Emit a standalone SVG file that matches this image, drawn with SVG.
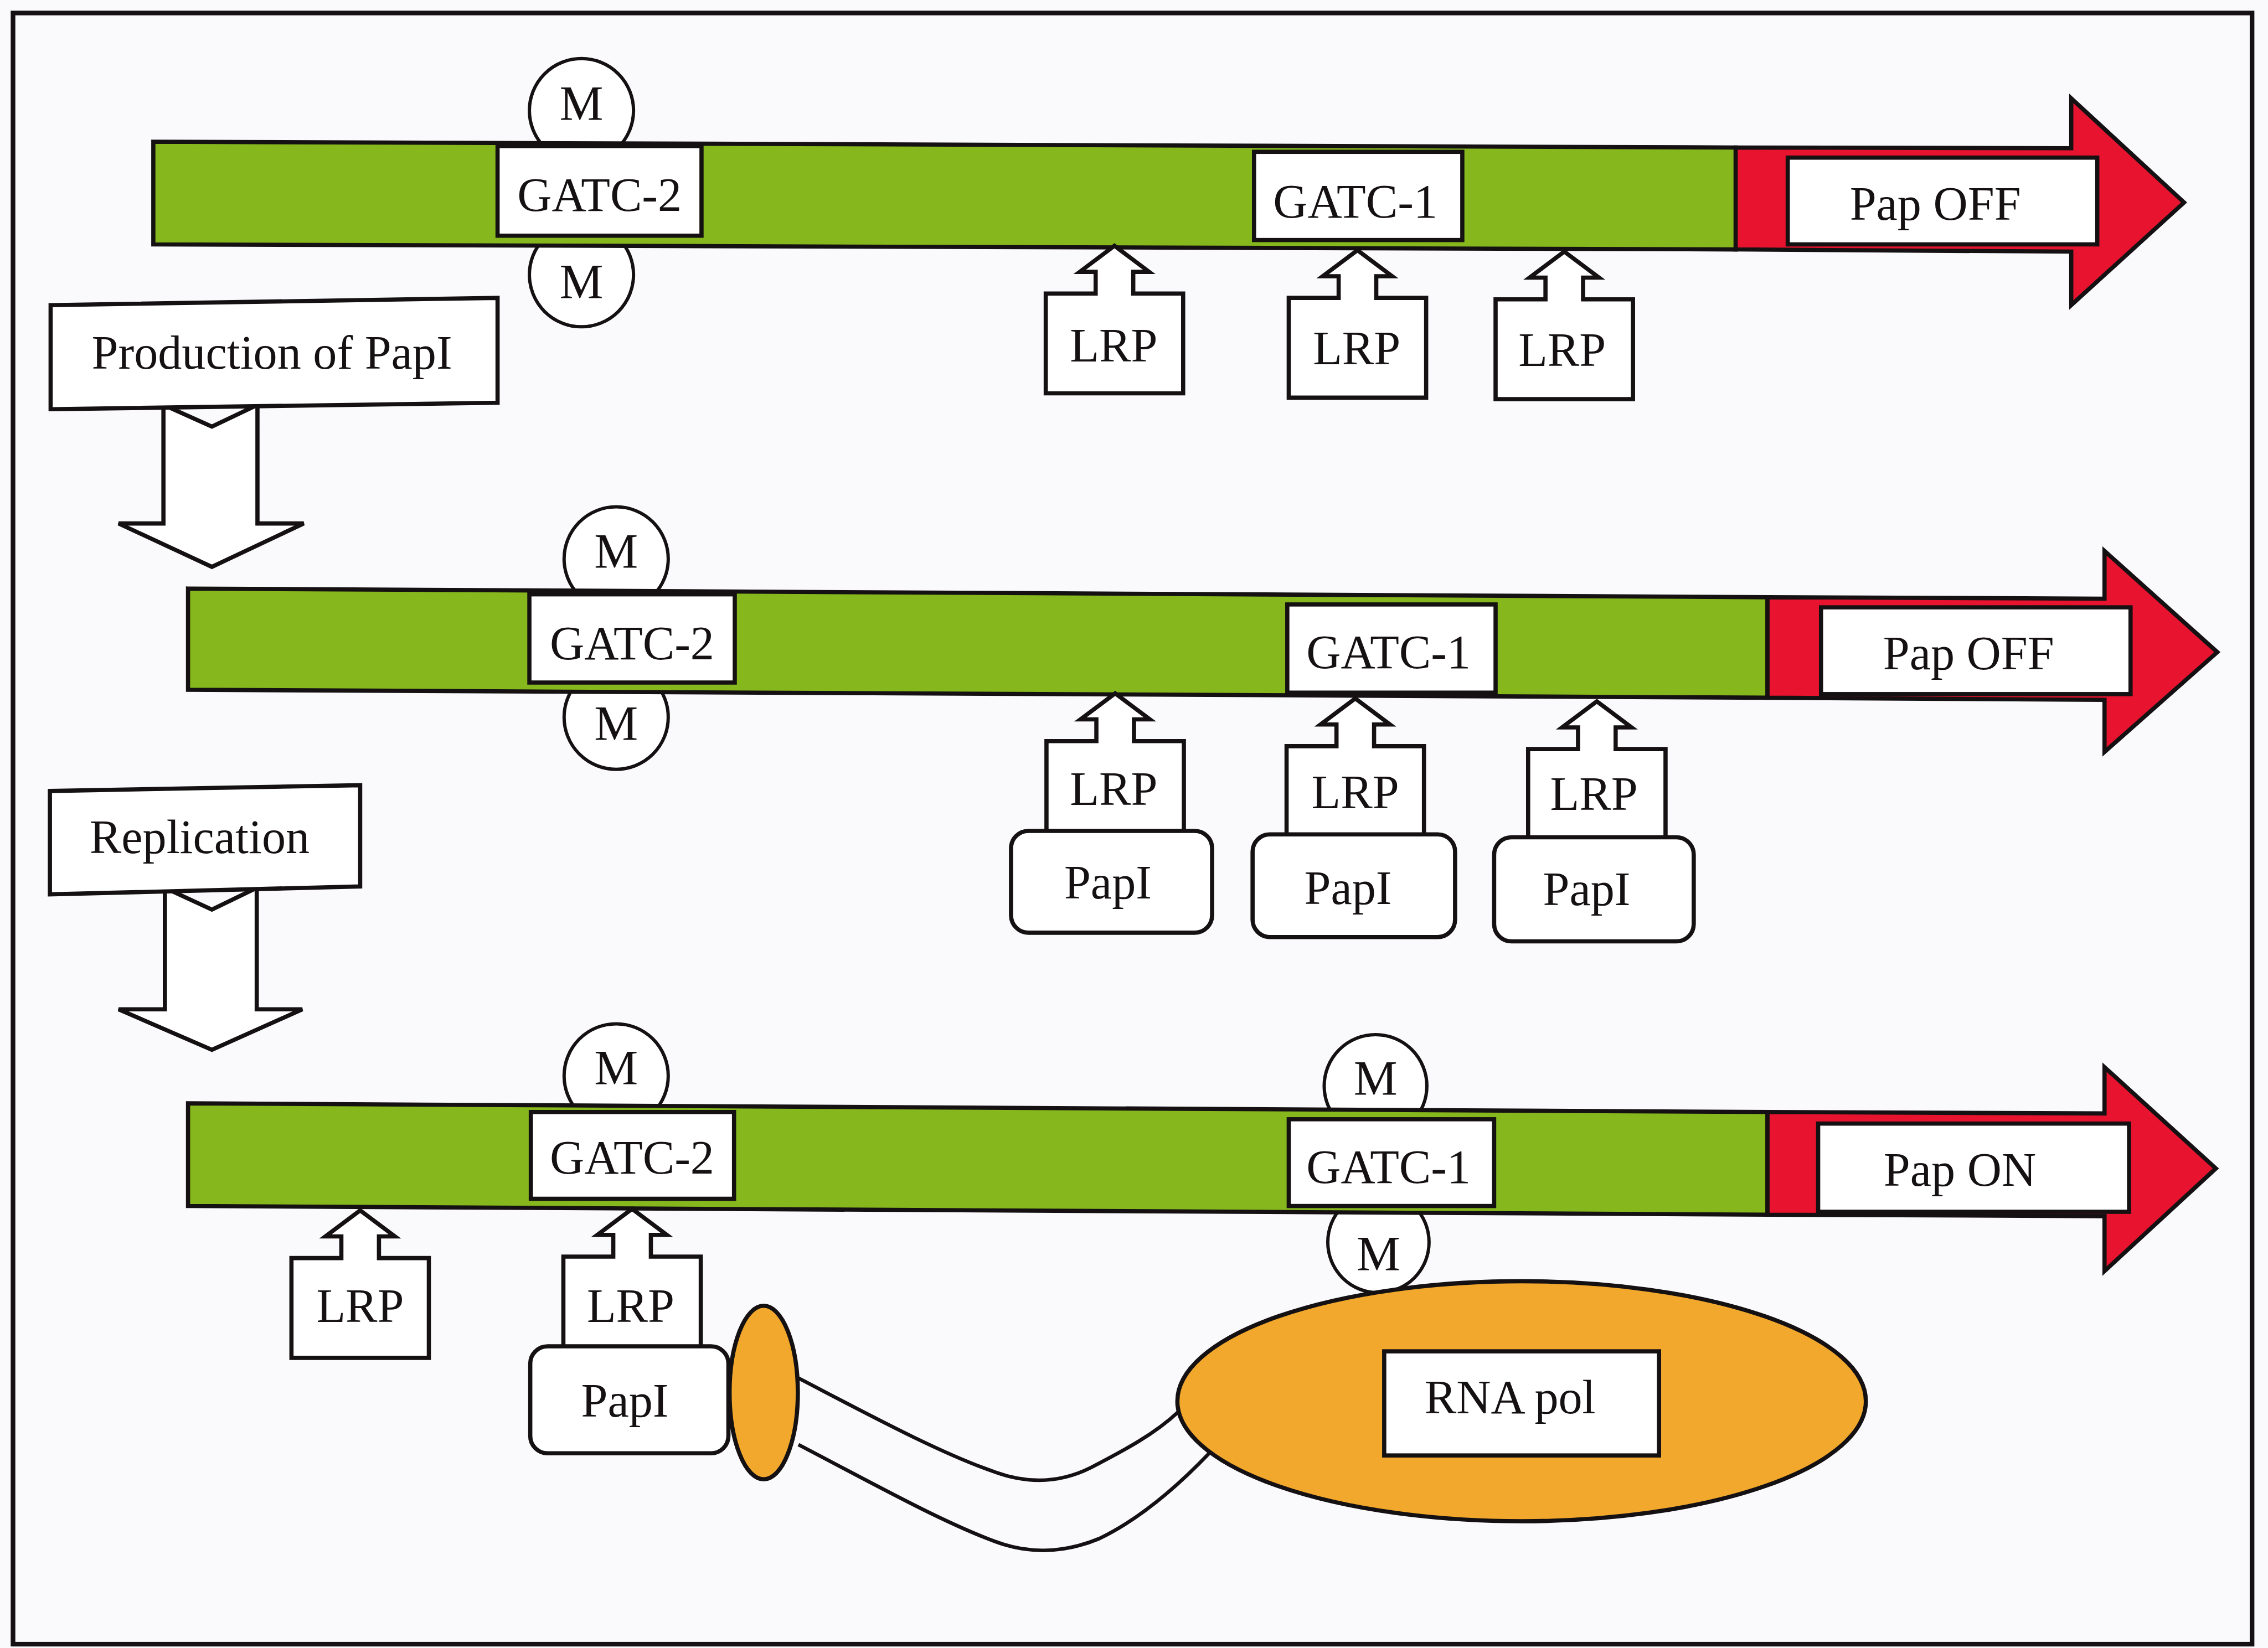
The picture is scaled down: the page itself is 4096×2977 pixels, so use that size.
<svg xmlns="http://www.w3.org/2000/svg" xmlns:xlink="http://www.w3.org/1999/xlink" width="4096" height="2977" viewBox="0 0 4096 2977">
  <defs>
    <style>
      .ln { stroke: #151113; stroke-width: 2.9; stroke-linejoin: miter; }
      .thin { stroke: #151113; stroke-width: 2.3; }
      .wh { fill: #ffffff; }
      .dna { fill: #86b81e; }
      .gene { fill: #e8142f; }
      .org { fill: #f2a82c; }
      .wire { fill: none; stroke: #151113; stroke-width: 2.5; }
      text { font-family: "Liberation Serif", "Times New Roman", serif; font-size: 33px; fill: #151113; text-anchor: middle; }
      .m { font-size: 34px; }
    </style>
    <!-- LRP block: tip of the arrow at the origin, box below -->
    <path id="lrp-shape" d="M-47.5,102 V33 H-13 V18 H-24 L0,0 L24,18 H13 V33 H47.5 V102 Z"/>
  </defs>

  <rect x="0" y="0" width="4096" height="2977" fill="#fafafd"/>

  <g transform="scale(2.6122)">
    <rect id="frame" x="9" y="9" width="1548" height="1128" fill="none" stroke="#151113" stroke-width="3.2"/>

    <!-- block arrows and the RNA polymerase tether -->
    <g id="connectors">
      <polygon id="arrow-production" class="ln wh" points="113,280 146.5,295 178,280 178,362 210,362 146.5,392 82,362 113,362"/>
      <polygon id="arrow-replication" class="ln wh" points="114,614 146.5,629 177.5,614 177.5,698 209,698 146.5,726 82,698 114,698"/>
      <path id="tether-upper" class="wire" d="M552,953 C600,978 650,1005 688,1018 C710,1026 732,1026 754,1015 C777,1003 798,992 815,976"/>
      <path id="tether-lower" class="wire" d="M552,999 C600,1024 650,1052 688,1066 C712,1075 736,1074 760,1064 C787,1051 813,1029 836,1005"/>
    </g>

    <!-- ===== State 1 ===== -->
    <g id="r1-m-top"><circle class="thin wh" cx="402" cy="76.5" r="36"/><text class="m" x="402" y="82.6">M</text></g>
    <g id="r1-m-bottom"><circle class="thin wh" cx="402" cy="190" r="36"/><text class="m" x="402" y="205.8">M</text></g>
    <g id="r1-dna"><polygon class="ln dna" points="106,98 1200,102 1200,172.5 106,169"/></g>
    <g id="r1-pap">
      <polygon class="ln gene" points="1200,102 1432,102.5 1432,68 1510,140 1432,211 1432,174 1200,172.5"/>
      <rect class="ln wh" x="1236" y="109" width="214" height="60" stroke-width="3.2"/>
      <text x="1338" y="152">Pap OFF</text>
    </g>
    <g id="r1-gatc2"><rect class="ln wh" x="344" y="101" width="141" height="62"/><text x="414.5" y="146">GATC-2</text></g>
    <g id="r1-gatc1"><rect class="ln wh" x="867" y="105" width="144" height="61"/><text x="937" y="150.5">GATC-1</text></g>
    <g id="r1-lrp1"><use xlink:href="#lrp-shape" class="ln wh" x="770.5" y="170"/><text x="770" y="250">LRP</text></g>
    <g id="r1-lrp2"><use xlink:href="#lrp-shape" class="ln wh" x="938.5" y="173"/><text x="938" y="252">LRP</text></g>
    <g id="r1-lrp3"><use xlink:href="#lrp-shape" class="ln wh" x="1081.5" y="174"/><text x="1080" y="253">LRP</text></g>

    <g id="label-production">
      <polygon class="ln wh" points="35,211 344,206 344,278.5 35,283"/>
      <text x="188" y="255">Production of PapI</text>
    </g>

    <!-- ===== State 2 ===== -->
    <g id="r2-m-top"><circle class="thin wh" cx="426" cy="386.5" r="36"/><text class="m" x="426" y="392.5">M</text></g>
    <g id="r2-m-bottom"><circle class="thin wh" cx="426" cy="496" r="36"/><text class="m" x="426" y="511.5">M</text></g>
    <g id="r2-dna"><polygon class="ln dna" points="130,407 1222,413 1222,482.5 130,477"/></g>
    <g id="r2-pap">
      <polygon class="ln gene" points="1222,413 1455,414 1455,381 1533,451 1455,520 1455,484 1222,482.5"/>
      <rect class="ln wh" x="1259" y="420" width="214" height="60" stroke-width="3.2"/>
      <text x="1361" y="463">Pap OFF</text>
    </g>
    <g id="r2-gatc2"><rect class="ln wh" x="366" y="411" width="142" height="61"/><text x="437" y="456">GATC-2</text></g>
    <g id="r2-gatc1"><rect class="ln wh" x="890" y="418" width="144" height="61"/><text x="960" y="462">GATC-1</text></g>
    <g id="r2-lrp1"><use xlink:href="#lrp-shape" class="ln wh" x="771" y="479.5"/><text x="770" y="556.5">LRP</text></g>
    <g id="r2-lrp2"><use xlink:href="#lrp-shape" class="ln wh" x="937" y="483"/><text x="937" y="559">LRP</text></g>
    <g id="r2-lrp3"><use xlink:href="#lrp-shape" class="ln wh" x="1104" y="485"/><text x="1102" y="560">LRP</text></g>
    <g id="r2-papi1"><rect class="ln wh" x="699" y="574.6" width="139" height="70.4" rx="12"/><text x="766" y="621.5">PapI</text></g>
    <g id="r2-papi2"><rect class="ln wh" x="866" y="577" width="140" height="71" rx="12"/><text x="932" y="625">PapI</text></g>
    <g id="r2-papi3"><rect class="ln wh" x="1033" y="579" width="138" height="72" rx="12"/><text x="1097" y="626">PapI</text></g>

    <g id="label-replication">
      <polygon class="ln wh" points="34.5,547 249,543 249,613 34.5,618.5"/>
      <text x="138" y="590">Replication</text>
    </g>

    <!-- ===== State 3 ===== -->
    <g id="r3-m-gatc2"><circle class="thin wh" cx="426" cy="744" r="36"/><text class="m" x="426" y="749.6">M</text></g>
    <g id="r3-m-gatc1-top"><circle class="thin wh" cx="951" cy="751" r="35.5"/><text class="m" x="951" y="757">M</text></g>
    <g id="r3-m-gatc1-bottom"><circle class="thin wh" cx="953" cy="859" r="35"/><text class="m" x="953" y="878">M</text></g>
    <g id="r3-dna"><polygon class="ln dna" points="130,763 1222,769 1222,840 130,834"/></g>
    <g id="r3-pap">
      <polygon class="ln gene" points="1222,769 1455,770 1455,738 1532,808 1455,879 1455,841 1222,840"/>
      <rect class="ln wh" x="1257" y="777" width="215" height="61" stroke-width="3.2"/>
      <text x="1355" y="820">Pap ON</text>
    </g>
    <g id="r3-gatc2"><rect class="ln wh" x="367" y="769" width="140.5" height="60"/><text x="437" y="811.6">GATC-2</text></g>
    <g id="r3-gatc1"><rect class="ln wh" x="891" y="774" width="142" height="60"/><text x="960" y="818">GATC-1</text></g>
    <g id="r3-lrp1"><use xlink:href="#lrp-shape" class="ln wh" x="249" y="837"/><text x="249" y="914">LRP</text></g>
    <g id="r3-lrp2"><use xlink:href="#lrp-shape" class="ln wh" x="437" y="836"/><text x="436" y="914">LRP</text></g>
    <g id="r3-papi"><rect class="ln wh" x="366.6" y="931" width="137" height="74" rx="12"/><text x="432" y="979.6">PapI</text></g>
    <g id="r3-sigma"><ellipse class="ln org" cx="528" cy="963" rx="23.6" ry="60"/></g>
    <g id="r3-rnapol">
      <ellipse class="ln org" cx="1052" cy="969" rx="238" ry="83"/>
      <rect class="ln wh" x="957" y="934.5" width="190" height="72"/>
      <text x="1044" y="977.5">RNA pol</text>
    </g>
  </g>
</svg>
